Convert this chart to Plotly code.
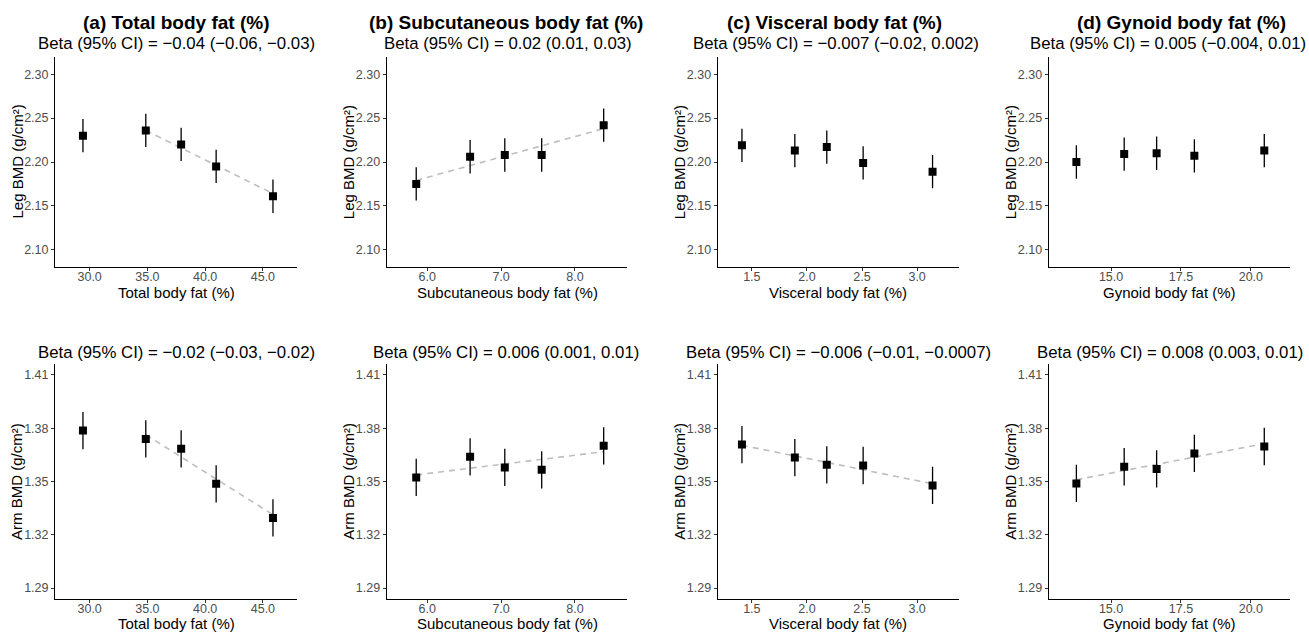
import plotly.graph_objects as go

# body margin is removed by a post script, so figure pixels == screen pixels
OFF = 0
W, H = 1309, 632
FONT = "Liberation Sans, Arial, sans-serif"

# ---------------- data ----------------
panel_letters = ["a", "b", "c", "d"]
exposures = ["Total body fat (%)", "Subcutaneous body fat (%)",
             "Visceral body fat (%)", "Gynoid body fat (%)"]

x_total = [29.42, 34.86, 37.92, 40.95, 45.87]
x_subcut = [5.85, 6.58, 7.05, 7.55, 8.39]
x_visc = [1.41, 1.89, 2.18, 2.51, 3.14]
x_gyn = [13.76, 15.47, 16.63, 17.98, 20.48]

leg_total = [2.230, 2.236, 2.220, 2.195, 2.161]
leg_subcut = [2.175, 2.206, 2.208, 2.208, 2.242]
leg_visc = [2.219, 2.213, 2.217, 2.199, 2.189]
leg_gyn = [2.200, 2.209, 2.210, 2.207, 2.213]
leg_err = 0.019

arm_total = [1.3787, 1.3740, 1.3684, 1.3487, 1.3295]
arm_subcut = [1.3523, 1.3639, 1.3579, 1.3566, 1.3701]
arm_visc = [1.3708, 1.3635, 1.3594, 1.3590, 1.3478]
arm_gyn = [1.3489, 1.3583, 1.3571, 1.3658, 1.3697]
arm_err = 0.0105

# trend lines: (x start, x end, y start, y end); None = no line
leg_trend = [(34.86, 45.87, 2.236, 2.164), (5.85, 8.39, 2.179, 2.238), None, None]
arm_trend = [(34.86, 45.87, 1.3763, 1.3313), (5.85, 8.39, 1.3537, 1.3668),
             (1.41, 3.14, 1.3704, 1.3487), (13.76, 20.48, 1.3510, 1.3713)]

leg_beta = ["−0.04 (−0.06, −0.03)", "0.02 (0.01, 0.03)",
            "−0.007 (−0.02, 0.002)", "0.005 (−0.004, 0.01)"]
arm_beta = ["−0.02 (−0.03, −0.02)", "0.006 (0.001, 0.01)",
            "−0.006 (−0.01, −0.0007)", "0.008 (0.003, 0.01)"]

x_ticks = [[30, 35, 40, 45], [6, 7, 8], [1.5, 2.0, 2.5, 3.0], [15, 17.5, 20]]
x_ranges = [[27.0, 47.95], [5.45, 8.71], [1.19, 3.38], [12.77, 21.4]]
leg_ticks = [2.10, 2.15, 2.20, 2.25, 2.30]
leg_range = [2.08, 2.32]
arm_ticks = [1.29, 1.32, 1.35, 1.38, 1.41]
arm_range = [1.284, 1.416]

xs = [x_total, x_subcut, x_visc, x_gyn]
legs = [leg_total, leg_subcut, leg_visc, leg_gyn]
arms = [arm_total, arm_subcut, arm_visc, arm_gyn]

# ---------------- layout geometry (screen pixels) ----------------
col_px = [(55, 297), (386.7, 627.3), (717.7, 959), (1048.7, 1290)]
row_px = [(56.7, 267.3), (364.3, 598.7)]
title_cx = [175.5, 506, 834.5, 1181]
sub_cx = [[176, 507.5, 835.5, 1167.5], [176, 505.5, 838, 1170]]


def px(xp):
    return (xp - OFF) / W


def py(yp):
    return 1 - (yp - OFF) / H


fig = go.Figure()
layout = dict(
    width=W, height=H, margin=dict(l=0, r=0, t=0, b=0),
    paper_bgcolor="white", plot_bgcolor="white", showlegend=False,
    font=dict(family=FONT, color="black"),
)
annotations = []


def axis_common():
    return dict(showline=True, linecolor="black", linewidth=1, showgrid=False,
                zeroline=False, ticks="outside", ticklen=3, tickwidth=1,
                tickcolor="#333333", tickfont=dict(family=FONT, size=12.5, color="#4D4D4D"),
                mirror=False)


idx = 0
for r in range(2):
    ys_all = legs if r == 0 else arms
    err = leg_err if r == 0 else arm_err
    trends = leg_trend if r == 0 else arm_trend
    betas = leg_beta if r == 0 else arm_beta
    yticks = leg_ticks if r == 0 else arm_ticks
    yrange = leg_range if r == 0 else arm_range
    ylabel = "Leg BMD (g/cm²)" if r == 0 else "Arm BMD (g/cm²)"
    for c in range(4):
        idx += 1
        sfx = "" if idx == 1 else str(idx)
        xa, ya = "x" + sfx, "y" + sfx
        x0, x1 = col_px[c]
        y0, y1 = row_px[r]
        ax = axis_common()
        ax.update(domain=[px(x0), px(x1)], range=x_ranges[c], tickvals=x_ticks[c],
                  tickformat=".1f", anchor=ya, ticklabelstandoff=-5)
        ay = axis_common()
        ay.update(domain=[py(y1), py(y0)], range=yrange, tickvals=yticks,
                  tickformat=".2f", anchor=xa)
        layout["xaxis" + sfx] = ax
        layout["yaxis" + sfx] = ay

        tr = trends[c]
        if tr is not None:
            fig.add_trace(go.Scatter(x=[tr[0], tr[1]], y=[tr[2], tr[3]], mode="lines",
                                     line=dict(color="#BEBEBE", width=1.6, dash="6px,5px"),
                                     xaxis=xa, yaxis=ya, hoverinfo="skip"))
        fig.add_trace(go.Scatter(
            x=xs[c], y=ys_all[c], mode="markers",
            marker=dict(symbol="square", size=8, color="black"),
            error_y=dict(type="constant", value=err, color="black", thickness=1.3, width=0),
            xaxis=xa, yaxis=ya))

        cx = (x0 + x1) / 2
        if r == 0:
            annotations.append(dict(text="<b>(%s) %s</b>" % (panel_letters[c], exposures[c]),
                                    x=px(title_cx[c]), y=py(23), xref="paper", yref="paper",
                                    xanchor="center", yanchor="middle", showarrow=False,
                                    font=dict(size=19, family=FONT, color="black")))
            sub_y = 43
        else:
            sub_y = 352.5
        annotations.append(dict(text="Beta (95% CI) = " + betas[c],
                                x=px(sub_cx[r][c]), y=py(sub_y), xref="paper", yref="paper",
                                xanchor="center", yanchor="middle", showarrow=False,
                                font=dict(size=16.8, family=FONT, color="black")))
        # x-axis title
        annotations.append(dict(text=exposures[c], x=px(cx), y=py(y1 + 25),
                                xref="paper", yref="paper", xanchor="center", yanchor="middle",
                                showarrow=False, font=dict(size=15, family=FONT, color="black")))
        # y-axis title
        annotations.append(dict(text=ylabel, x=px(x0 - 38.5), y=py((y0 + y1) / 2),
                                xref="paper", yref="paper", xanchor="center", yanchor="middle",
                                textangle=-90, showarrow=False,
                                font=dict(size=15, family=FONT, color="black")))

layout["annotations"] = annotations
fig.update_layout(**layout)
fig.write_html("out.html", config={"displayModeBar": False},
               post_script="document.body.style.margin='0';document.body.style.overflow='hidden';")
